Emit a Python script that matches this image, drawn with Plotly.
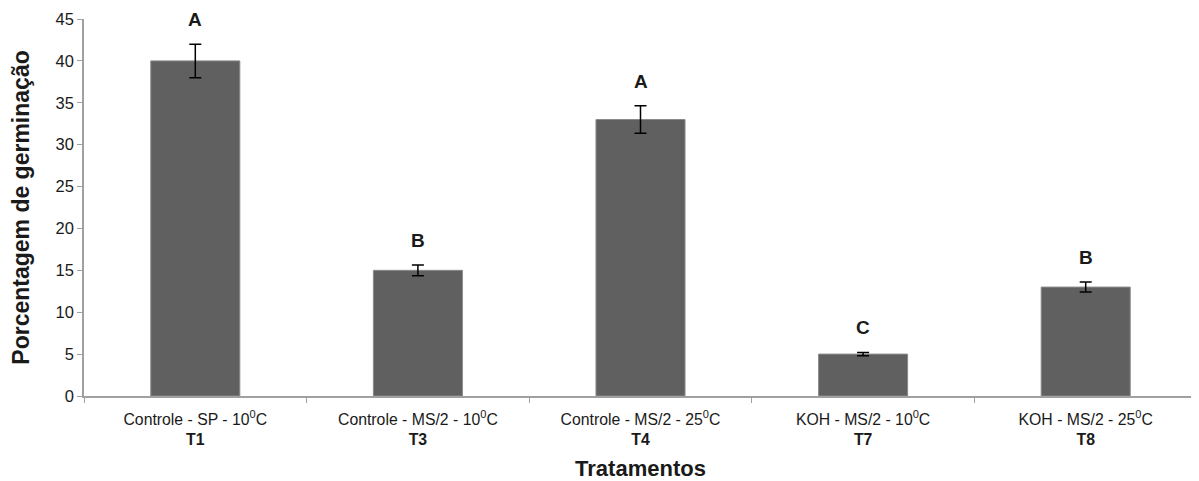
import plotly.graph_objects as go

categories = ["Controle - SP - 10<sup>0</sup>C<br><b>T1</b>",
              "Controle - MS/2 - 10<sup>0</sup>C<br><b>T3</b>",
              "Controle - MS/2 - 25<sup>0</sup>C<br><b>T4</b>",
              "KOH - MS/2 - 10<sup>0</sup>C<br><b>T7</b>",
              "KOH - MS/2 - 25<sup>0</sup>C<br><b>T8</b>"]
values = [40, 15, 33, 5, 13]
errors = [2.0, 0.65, 1.65, 0.2, 0.6]
letters = ["A", "B", "A", "C", "B"]

fig = go.Figure()
fig.add_trace(go.Bar(
    x=categories, y=values,
    marker=dict(color="#606060", line=dict(color="#8a8a8a", width=1)),
    width=0.4,
    error_y=dict(type="data", array=errors, visible=True, color="#000000", thickness=1.5, width=6),
    showlegend=False,
))

for c, v, e, l in zip(categories, values, errors, letters):
    fig.add_annotation(x=c, y=v + e, text="<b>" + l + "</b>", showarrow=False,
                       yanchor="bottom", yshift=12,
                       font=dict(family="Liberation Sans, Arial", size=19, color="#1a1a1a"))

fig.update_layout(
    width=1199, height=481,
    margin=dict(l=76, r=10, t=11, b=93),
    plot_bgcolor="white", paper_bgcolor="white",
    font=dict(family="Liberation Sans, Arial", size=15.8, color="#1a1a1a"),
    bargap=0.6,
)
fig.update_xaxes(
    automargin=False,
    showline=True, linecolor="#a0a0a0", linewidth=1.5,
    ticks="outside", tickson="boundaries", ticklen=5, tickcolor="#a0a0a0",
    tickfont=dict(size=15.8), ticklabelstandoff=8,
    title=dict(text="<b>Tratamentos</b>", font=dict(size=22), standoff=13),
)
fig.update_yaxes(
    automargin=False,
    range=[0, 45], dtick=5, showgrid=False, zeroline=False,
    showline=True, linecolor="#a0a0a0", linewidth=1.5,
    ticks="outside", ticklen=5, tickcolor="#a0a0a0",
    tickfont=dict(size=16.5),
    title=dict(text="<b>Porcentagem de germinação</b>", font=dict(size=23), standoff=24),
)

fig.write_html("out.html")
